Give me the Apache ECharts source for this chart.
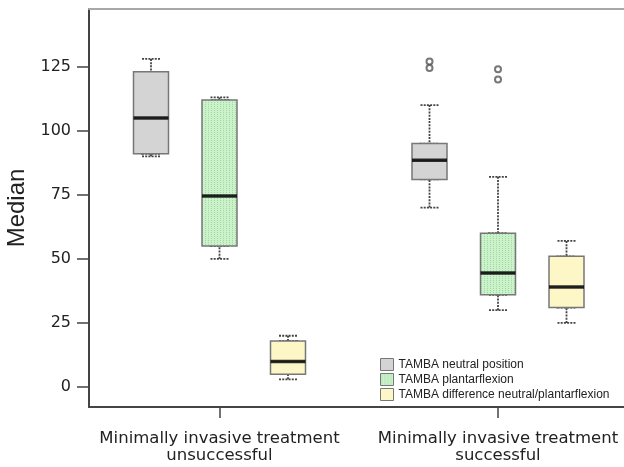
<!DOCTYPE html>
<html><head><meta charset="utf-8">
<script src="https://cdn.jsdelivr.net/npm/echarts@6/dist/echarts.min.js"></script>
<style>html,body{margin:0;padding:0;background:#fff}#c{width:624px;height:467px}</style>
</head><body><div id="c"></div>
<script>
const categories = ['Minimally invasive treatment\nunsuccessful', 'Minimally invasive treatment\nsuccessful'];
const seriesNames = ['TAMBA neutral position', 'TAMBA plantarflexion', 'TAMBA difference neutral/plantarflexion'];
// each entry: [min, Q1, median, Q3, max] for each category
const neutral = [[90, 91, 105, 123, 128], [70, 81, 88.5, 95, 110]];
const plantar = [[50, 55, 74.5, 112, 113], [30, 36, 44.5, 60, 82]];
const diff = [[3, 5, 10, 18, 20], [25, 31, 39, 51, 57]];
// outliers: [categoryIndex, value]
const neutralOutliers = [[1, 127], [1, 124.5]];
const plantarOutliers = [[1, 124], [1, 120]];
const diffOutliers = [];
const yTicks = [0, 25, 50, 75, 100, 125];

function makePattern() {
  const c = document.createElement('canvas');
  c.width = 3; c.height = 2;
  const g = c.getContext('2d');
  g.fillStyle = '#cbf2cb'; g.fillRect(0, 0, 3, 2);
  g.fillStyle = '#9fd89f'; g.fillRect(1, 0, 1, 1);
  return c;
}
const greenPattern = { image: makePattern(), repeat: 'repeat' };

const groups = [
  { name: seriesNames[0], data: neutral, outliers: neutralOutliers, fill: '#d4d4d4', left: 11.75 },
  { name: seriesNames[1], data: plantar, outliers: plantarOutliers, fill: greenPattern, left: 80.25 },
  { name: seriesNames[2], data: diff, outliers: diffOutliers, fill: '#fdf6c6', left: 148.75 }
];

const yMin = -7.8, yMax = 147.5;
const font = 'Liberation Sans, Arial, sans-serif';
const axisFont = 'DejaVu Sans, sans-serif';

const grid = [{ left: 89, top: 9, height: 398, width: 560, outerBoundsMode: 'none', containLabel: false }];
const xAxis = [
  { gridIndex: 0, type: 'value', min: 0, max: 1, position: 'bottom',
    axisLine: { show: true, onZero: false, lineStyle: { color: '#444', width: 2 } },
    axisTick: { show: false }, axisLabel: { show: false }, splitLine: { show: false } },
  { gridIndex: 0, type: 'value', min: 0, max: 1, position: 'top',
    axisLine: { show: true, onZero: false, lineStyle: { color: '#a8a8a8', width: 2 } },
    axisTick: { show: false }, axisLabel: { show: false }, splitLine: { show: false } }
];
const yAxis = [
  { gridIndex: 0, type: 'value', min: yMin, max: yMax,
    axisLine: { show: true, onZero: false, lineStyle: { color: '#444', width: 2 } },
    axisTick: { show: true, length: 12, customValues: yTicks, lineStyle: { color: '#444', width: 1.5 } },
    axisLabel: { customValues: yTicks, margin: 18, fontSize: 16, color: '#222', fontFamily: axisFont },
    splitLine: { show: false },
    name: 'Median', nameLocation: 'middle', nameGap: 50,
    nameTextStyle: { fontSize: 24, color: '#222', fontFamily: font } }
];
const series = [];

groups.forEach((grp, k) => {
  const gi = k + 1;
  grid.push({ left: grp.left, top: 9, height: 398, width: 557, outerBoundsMode: 'none', containLabel: false });
  yAxis.push({ gridIndex: gi, type: 'value', min: yMin, max: yMax, show: false });
  const wi = xAxis.length;
  const visible = (k === 1);
  xAxis.push({
    gridIndex: gi, type: 'category', data: categories,
    show: visible,
    axisLine: { show: false, onZero: false },
    axisTick: { show: visible, interval: 0, alignWithLabel: true, length: 11, lineStyle: { color: '#444', width: 1.5 } },
    axisLabel: { show: visible, interval: 0, hideOverlap: false, fontSize: 16.5, lineHeight: 17, margin: 23, color: '#222', fontFamily: axisFont },
    splitLine: { show: false }
  });
  const bi = xAxis.length;
  xAxis.push({ gridIndex: gi, type: 'category', data: categories, show: false });

  series.push({
    type: 'boxplot', name: grp.name, xAxisIndex: wi, yAxisIndex: gi,
    boxWidth: [18, 18], data: grp.data,
    itemStyle: { color: 'transparent', borderColor: '#444', borderWidth: 1.8, borderType: [2, 1.2] },
    emphasis: { disabled: true }, z: 2
  });
  series.push({
    type: 'boxplot', name: grp.name, xAxisIndex: bi, yAxisIndex: gi,
    boxWidth: [35, 35], data: grp.data.map(d => [d[1], d[1], d[2], d[3], d[3]]),
    itemStyle: { color: grp.fill, borderColor: '#777', borderWidth: 1.5 },
    emphasis: { disabled: true }, z: 3
  });
  series.push({
    type: 'scatter', xAxisIndex: wi, yAxisIndex: gi,
    symbol: 'rect', symbolSize: [35, 3.5],
    data: grp.data.map((d, i) => [i, d[2]]),
    itemStyle: { color: '#000' }, z: 4, silent: true
  });
  series.push({
    type: 'scatter', xAxisIndex: wi, yAxisIndex: gi,
    symbol: 'emptyCircle', symbolSize: 6,
    data: grp.outliers,
    itemStyle: { color: '#555', borderColor: '#555', borderWidth: 1.3 }, z: 4, silent: true
  });
});

const chart = echarts.init(document.getElementById('c'), null, { renderer: 'canvas' });
chart.setOption({
  animation: false,
  backgroundColor: '#fff',
  grid, xAxis, yAxis, series,
  legend: {
    orient: 'vertical', left: 375, top: 353,
    itemWidth: 13, itemHeight: 12, itemGap: 2, itemTextGap: 2,
    textStyle: { fontSize: 12, color: '#222', fontFamily: font },
    selectedMode: false,
    data: groups.map(g => ({ name: g.name, icon: 'rect',
      itemStyle: { color: g.fill, borderColor: '#777', borderWidth: 1 } }))
  }
});
</script></body></html>
